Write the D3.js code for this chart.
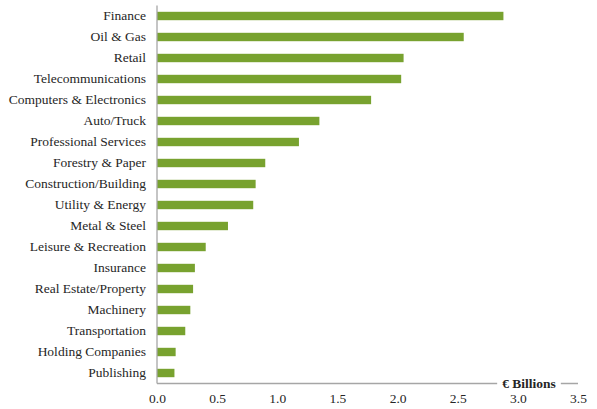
<!DOCTYPE html>
<html>
<head>
<meta charset="utf-8">
<script src="https://cdn.jsdelivr.net/npm/d3@7"></script>
<style>
  html, body { margin: 0; padding: 0; background: #fff; }
  svg { display: block; }
  text { font-family: "Liberation Serif", "DejaVu Serif", serif; }
</style>
</head>
<body>
<svg id="chart" width="597" height="409"></svg>
<script>
// Sectors, largest first
const sectors = [
  "Finance", "Oil & Gas", "Retail", "Telecommunications",
  "Computers & Electronics", "Auto/Truck", "Professional Services",
  "Forestry & Paper", "Construction/Building", "Utility & Energy",
  "Metal & Steel", "Leisure & Recreation", "Insurance",
  "Real Estate/Property", "Machinery", "Transportation",
  "Holding Companies", "Publishing"
];
// Value per sector, € billions
const values = [
  2.88, 2.55, 2.05, 2.03, 1.78, 1.35, 1.18, 0.90, 0.82, 0.80,
  0.59, 0.405, 0.315, 0.30, 0.277, 0.235, 0.155, 0.145
];
const xTicks = [0, 0.5, 1.0, 1.5, 2.0, 2.5, 3.0, 3.5];
const axisTitle = "€ Billions";

const svg = d3.select("#chart");
const m = { left: 157, right: 19, top: 5.5, bottom: 25.5 };
const W = 597, H = 409;
const fontSize = 13.5;
const textColor = "#262626";
const axisColor = "#a6a6a6";

const x = d3.scaleLinear().domain([0, 3.5]).range([m.left, W - m.right]);
const y = d3.scaleBand().domain(sectors).range([m.top, H - m.bottom]).paddingInner(0.6).paddingOuter(0.3);

// Bars
svg.append("g").selectAll("rect")
  .data(sectors)
  .join("rect")
  .attr("x", x(0))
  .attr("y", d => y(d))
  .attr("width", (d, i) => x(values[i]) - x(0))
  .attr("height", y.bandwidth())
  .attr("fill", "#78a22f");

// Category labels
const yAxis = svg.append("g")
  .attr("transform", `translate(${m.left},0)`)
  .call(d3.axisLeft(y).tickSize(0).tickPadding(11));
yAxis.select(".domain").attr("stroke", axisColor).attr("stroke-width", 1.3)
  .attr("d", `M0,${m.top}V${H - m.bottom}`);
yAxis.selectAll("text")
  .attr("font-size", fontSize)
  .attr("fill", textColor)
  .attr("font-family", "Liberation Serif, DejaVu Serif, serif");

// Value axis
const xAxis = svg.append("g")
  .attr("transform", `translate(0,${H - m.bottom})`)
  .call(d3.axisBottom(x).tickValues(xTicks).tickFormat(d3.format(".1f")).tickSize(0).tickPadding(10));
xAxis.select(".domain").attr("stroke", axisColor).attr("stroke-width", 1.3)
  .attr("d", `M${m.left},0H${W - m.right}`);
xAxis.selectAll("text")
  .attr("font-size", fontSize)
  .attr("fill", textColor)
  .attr("font-family", "Liberation Serif, DejaVu Serif, serif");

// Axis title sitting on the axis line, with a white gap behind it
const tx = 529, ty = H - m.bottom;
const titleGroup = svg.append("g");
const gap = titleGroup.append("rect").attr("fill", "#fff");
const title = titleGroup.append("text")
  .attr("x", tx).attr("y", ty + 4.5)
  .attr("text-anchor", "middle")
  .attr("font-size", fontSize)
  .attr("font-weight", "bold")
  .attr("fill", textColor)
  .text(axisTitle);
const bb = title.node().getBBox();
gap.attr("x", bb.x - 5).attr("y", ty - 3)
  .attr("width", bb.width + 10).attr("height", 6);
</script>
</body>
</html>
